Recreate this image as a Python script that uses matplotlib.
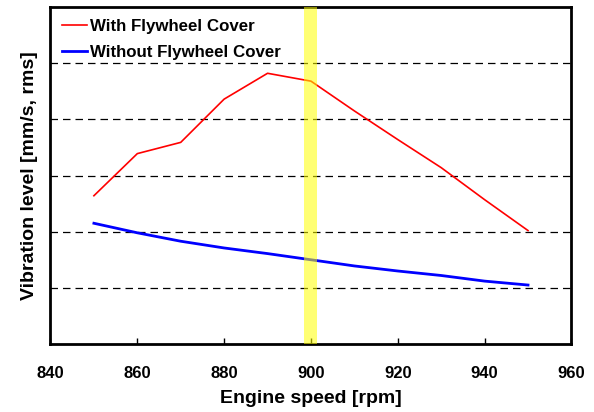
import numpy as np
import matplotlib
matplotlib.use('Agg')
import matplotlib.pyplot as plt

matplotlib.rcParams['font.family'] = ['Liberation Sans', 'DejaVu Sans']
matplotlib.rcParams['font.weight'] = 'bold'

speed = [850, 860, 870, 880, 890, 900, 910, 920, 930, 940, 950]
with_cover = [2.64, 3.39, 3.59, 4.36, 4.82, 4.68, 4.15, 3.64, 3.14, 2.57, 2.02]
without_cover = [2.15, 1.98, 1.83, 1.71, 1.61, 1.50, 1.39, 1.30, 1.22, 1.12, 1.05]
xticks = [840, 860, 880, 900, 920, 940, 960]
grid_levels = [1, 2, 3, 4, 5]

fig, ax = plt.subplots(figsize=(5.94, 4.12), dpi=100)
fig.subplots_adjust(left=0.085, right=0.962, top=0.983, bottom=0.165)

for g in grid_levels:
    ax.axhline(g, color='black', lw=0.9, ls=(0, (6, 4)), zorder=1)

ax.plot(speed, with_cover, color='red', lw=1.2, label='With Flywheel Cover', zorder=3)
ax.plot(speed, without_cover, color='blue', lw=2.0, label='Without Flywheel Cover', zorder=3)

# highlighted operating speed
ax.axvspan(898.4, 901.5, color='yellow', alpha=0.55, lw=0, zorder=4)

ax.set_xlim(840, 960)
ax.set_ylim(0, 6)
ax.set_xticks(xticks)
ax.set_yticks([])
ax.tick_params(axis='x', direction='in', length=4, width=1, labelsize=12, pad=16)
for lbl in ax.get_xticklabels():
    lbl.set_fontweight('bold')
for s in ax.spines.values():
    s.set_linewidth(2)

ax.set_xlabel('Engine speed [rpm]', fontsize=14, fontweight='bold', labelpad=6)
ax.set_ylabel('Vibration level [mm/s, rms]', fontsize=14, fontweight='bold', labelpad=9)

leg = ax.legend(loc='upper left', frameon=False, fontsize=12.2, handlelength=1.45,
                handletextpad=0.2, borderaxespad=0.4, borderpad=0.3, labelspacing=0.68)
for t in leg.get_texts():
    t.set_fontweight('bold')

plt.savefig('out.png', dpi=100)
plt.close()
